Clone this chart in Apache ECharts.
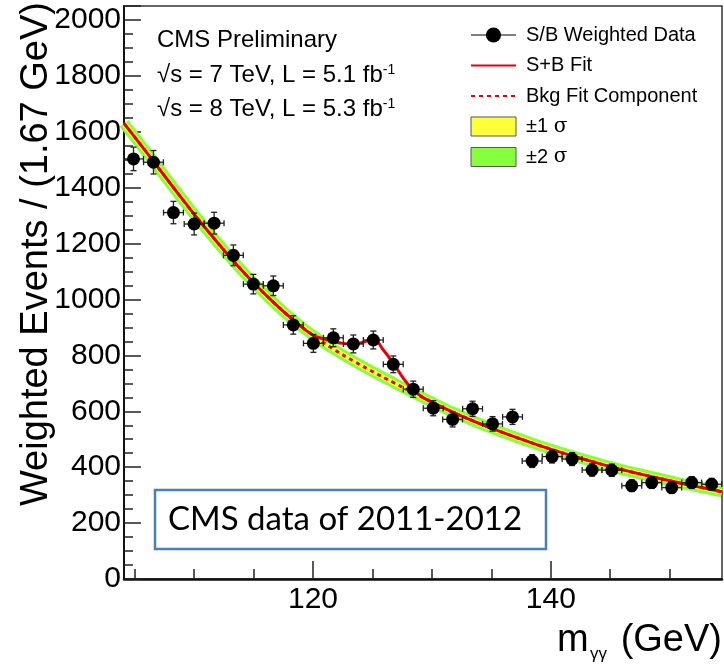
<!DOCTYPE html>
<html>
<head>
<meta charset="utf-8">
<script src="https://cdn.jsdelivr.net/npm/echarts@6/dist/echarts.min.js"></script>
<style>
  html, body { margin: 0; padding: 0; background: #fff; }
  #main { width: 724px; height: 665px; }
</style>
</head>
<body>
<div id="main"></div>
<script>
// weighted data points (bin centre in GeV, events, error)
var massVals = [104.9, 106.58, 108.26, 110.0, 111.68, 113.3, 114.98, 116.66, 118.34, 120.03,
  121.71, 123.39, 125.07, 126.75, 128.43, 130.11, 131.74, 133.42, 135.1, 136.78,
  138.43, 140.11, 141.79, 143.47, 145.13, 146.81, 148.49, 150.17, 151.85, 153.53];
var evtVals = [1503, 1491, 1311, 1270, 1273, 1158, 1055, 1049, 909, 843,
  863, 841, 855, 768, 679, 611, 571, 609, 555, 580,
  422, 438, 429, 390, 389, 334, 345, 327, 345, 339];
var evtErr = [42, 42, 40, 39, 39, 37, 35, 35, 33, 32,
  32, 32, 32, 30, 29, 27, 27, 27, 26, 27,
  23, 23, 23, 22, 22, 21, 21, 21, 21, 21];
var binHalf = 0.835;

// background fit component
var bkgMass = [104.1, 105.0, 106.6, 108.3, 110.0, 111.7, 113.3, 115.0, 116.7, 118.3, 120.0,
  121.7, 123.4, 125.1, 126.8, 128.4, 130.1, 131.7, 133.4, 135.1, 136.8, 138.4, 140.1,
  141.8, 143.5, 145.1, 146.8, 148.5, 150.2, 151.9, 153.5, 154.4];
var bkgVals = [1630, 1581, 1493, 1398, 1305, 1217, 1138, 1060, 989, 928, 872,
  823, 780, 740, 702, 667, 631, 598, 567, 538, 511, 487, 463,
  441, 420, 401, 383, 366, 350, 334, 320, 312];

// signal + background fit
var sbMass = [104.1, 105.0, 106.6, 108.3, 110.0, 111.7, 113.3, 115.0, 116.7, 118.3, 120.0,
  120.8, 121.7, 122.5, 123.4, 124.2, 125.1, 125.9, 126.8, 127.6, 128.4, 129.3, 130.1,
  131.7, 133.4, 135.1, 136.8, 138.4, 140.1, 141.8, 143.5, 145.1, 146.8, 148.5, 150.2,
  151.9, 153.5, 154.4];
var sbVals = [1630, 1581, 1493, 1398, 1305, 1217, 1138, 1060, 989, 928, 872,
  860, 850, 843, 841, 847, 858, 820, 769, 718, 677, 648, 631,
  598, 567, 538, 511, 487, 463, 441, 420, 401, 383, 366, 350,
  334, 320, 312];

var xMajor = [120, 140];
var xMinor = [105, 110, 115, 125, 130, 135, 145, 150];

var RED = '#e5000b', YELLOW = '#ffff3c', GREEN = '#88ff3c';
var FONT = 'Liberation Sans';

function pairs(xs, ys) {
  return xs.map(function (x, i) { return [x, ys[i]]; });
}

var myChart = echarts.init(document.getElementById('main'));

function renderErr(params, api) {
  var m = api.value(0), v = api.value(1), e = api.value(2);
  var top = api.coord([m, v + e]), bot = api.coord([m, v - e]);
  var l = api.coord([m - binHalf, v]), r = api.coord([m + binHalf, v]);
  var c = 3;
  var st = { stroke: '#222', lineWidth: 1.3 };
  function ln(x1, y1, x2, y2) {
    return { type: 'line', shape: { x1: x1, y1: y1, x2: x2, y2: y2 }, style: st };
  }
  return {
    type: 'group',
    children: [
      ln(top[0], top[1], bot[0], bot[1]),
      ln(l[0], l[1], r[0], r[1]),
      ln(top[0] - c, top[1], top[0] + c, top[1]),
      ln(bot[0] - c, bot[1], bot[0] + c, bot[1]),
      ln(l[0], l[1] - c, l[0], l[1] + c),
      ln(r[0], r[1] - c, r[0], r[1] + c)
    ]
  };
}

var xBase = {
  type: 'value', min: 104.1, max: 154.4, gridIndex: 0, position: 'bottom',
  splitLine: { show: false }
};

var supRich = { sup: { fontSize: 14, fontFamily: FONT, verticalAlign: 'top', padding: [0, 0, 10, 0] } };

option = {
  animation: false,
  textStyle: { fontFamily: FONT },
  grid: {
    left: 124, right: 2, top: 6, bottom: 86,
    show: true, borderColor: '#333', borderWidth: 1.5, backgroundColor: 'transparent'
  },
  xAxis: [
    Object.assign({}, xBase, {
      axisLine: { lineStyle: { color: '#111', width: 2.5 } },
      axisTick: { inside: true, length: 18, customValues: xMajor, lineStyle: { color: '#222', width: 1.5 } },
      axisLabel: { customValues: xMajor, color: '#000', fontSize: 30, fontFamily: FONT, margin: 6 }
    }),
    Object.assign({}, xBase, {
      axisLine: { show: false },
      axisTick: { inside: true, length: 10, customValues: xMinor, lineStyle: { color: '#222', width: 1.5 } },
      axisLabel: { show: false }
    })
  ],
  yAxis: {
    type: 'value', min: 0, max: 2050, interval: 200,
    splitLine: { show: false },
    axisLine: { show: true, lineStyle: { color: '#111', width: 2 } },
    axisTick: { inside: true, length: 17, lineStyle: { color: '#222', width: 1.5 } },
    minorTick: { show: true, splitNumber: 4, length: 9, lineStyle: { color: '#222', width: 1.5 } },
    axisLabel: {
      color: '#000', fontSize: 30, fontFamily: FONT, margin: 3, showMaxLabel: false,
      formatter: function (v) { return String(v); }
    }
  },
  legend: {
    orient: 'vertical', left: 470, top: 25, padding: 0,
    itemWidth: 45, itemHeight: 19, itemGap: 10.5,
    selectedMode: false,
    textStyle: {
      fontFamily: FONT, fontSize: 20, color: '#000', padding: [0, 0, 0, 5],
      rich: { s: { fontFamily: 'DejaVu Serif', fontSize: 20, color: '#000' } }
    },
    formatter: function (n) { return n.replace('σ', '{s|σ}'); },
    data: [
      { name: 'S/B Weighted Data', lineStyle: { color: '#000', width: 1, opacity: 1 } },
      { name: 'S+B Fit', itemStyle: { opacity: 0 } },
      { name: 'Bkg Fit Component', itemStyle: { opacity: 0 } },
      { name: '±1 σ', icon: 'rect', itemStyle: { color: YELLOW, borderColor: '#555', borderWidth: 1 } },
      { name: '±2 σ', icon: 'rect', itemStyle: { color: GREEN, borderColor: '#555', borderWidth: 1 } }
    ]
  },
  series: [
    {
      name: '±2 σ', type: 'line', z: 1, smooth: 0.5, symbol: 'none',
      data: pairs(bkgMass, bkgVals),
      lineStyle: { color: GREEN, width: 11 }, itemStyle: { color: GREEN }
    },
    {
      name: '±1 σ', type: 'line', z: 2, smooth: 0.5, symbol: 'none',
      data: pairs(bkgMass, bkgVals),
      lineStyle: { color: YELLOW, width: 5 }, itemStyle: { color: YELLOW }
    },
    {
      name: 'Bkg Fit Component', type: 'line', z: 3, smooth: 0.5, symbol: 'none',
      data: pairs(bkgMass, bkgVals),
      lineStyle: { color: RED, width: 3, type: [4, 4] }, itemStyle: { color: RED }
    },
    {
      name: 'S+B Fit', type: 'line', z: 4, smooth: 0.4, symbol: 'none',
      data: pairs(sbMass, sbVals),
      lineStyle: { color: RED, width: 3 }, itemStyle: { color: RED }
    },
    {
      name: 'errors', type: 'custom', z: 5,
      renderItem: renderErr,
      encode: { x: 0, y: 1 },
      data: massVals.map(function (m, i) { return [m, evtVals[i], evtErr[i]]; })
    },
    {
      name: 'S/B Weighted Data', type: 'line', z: 6,
      symbol: 'circle', symbolSize: 13, showSymbol: true,
      data: pairs(massVals, evtVals),
      lineStyle: { opacity: 0 }, itemStyle: { color: '#000' }
    }
  ],
  graphic: [
    {
      type: 'text', left: 157, top: 28,
      style: { text: 'CMS Preliminary', font: '24px "Liberation Sans"', fill: '#000' }
    },
    {
      type: 'text', left: 157, top: 63,
      style: { text: '√s = 7 TeV, L = 5.1 fb{sup|-1}', font: '24px "Liberation Sans"', fill: '#000', rich: supRich }
    },
    {
      type: 'text', left: 157, top: 97,
      style: { text: '√s = 8 TeV, L = 5.3 fb{sup|-1}', font: '24px "Liberation Sans"', fill: '#000', rich: supRich }
    },
    {
      type: 'text', x: 37, y: 2, rotation: Math.PI / 2,
      style: {
        text: 'Weighted Events / (1.67 GeV)', font: '38px "Liberation Sans"', fill: '#000',
        align: 'right', verticalAlign: 'middle'
      }
    },
    {
      type: 'text', x: 557, y: 641,
      style: { text: 'm', font: '38px "Liberation Sans"', fill: '#000', align: 'left', verticalAlign: 'middle' }
    },
    {
      type: 'text', x: 590, y: 654,
      style: { text: 'γγ', font: '17px "Liberation Sans"', fill: '#000', align: 'left', verticalAlign: 'middle' }
    },
    {
      type: 'text', x: 722, y: 641,
      style: { text: '(GeV)', font: '38px "Liberation Sans"', fill: '#000', align: 'right', verticalAlign: 'middle' }
    },
    {
      type: 'rect', shape: { x: 155, y: 490, width: 391, height: 59 },
      style: { fill: '#fff', stroke: '#4a7ebb', lineWidth: 2.5 }, z: 100
    },
    {
      type: 'text', x: 168, y: 519, z: 101,
      style: { text: 'CMS data of 2011-2012', font: '33px Lato', fill: '#000', verticalAlign: 'middle' }
    }
  ]
};

myChart.setOption(option);
</script>
</body>
</html>
